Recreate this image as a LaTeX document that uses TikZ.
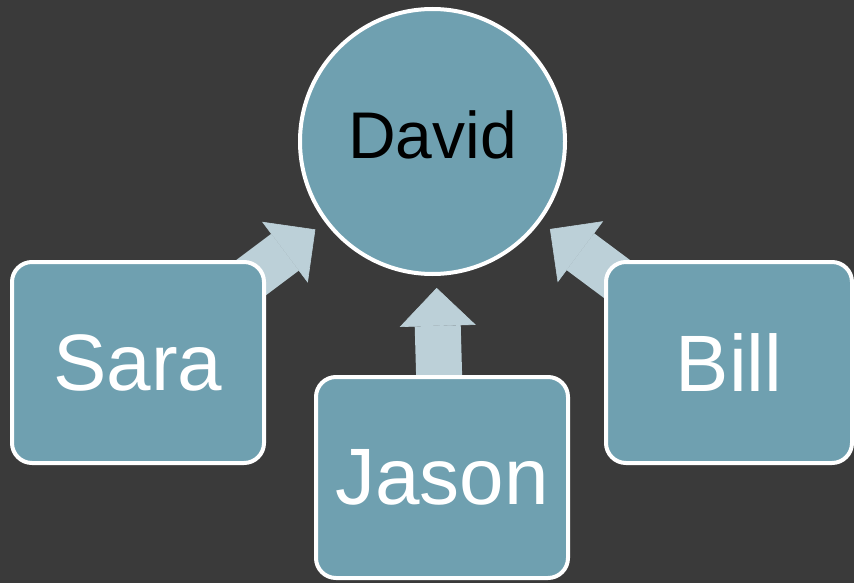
\documentclass[tikz,border=0pt]{standalone}
\usepackage{fontspec}
\setmainfont{Liberation Sans}
\usepackage{tikz}
\usepackage{xcolor}
\usetikzlibrary{arrows.meta}
\usetikzlibrary{positioning}

\definecolor{backdrop}{HTML}{3A3A3A}
\definecolor{tealfill}{HTML}{6FA0B0}
\definecolor{arrowfill}{HTML}{BCD0D8}

\pgfdeclarelayer{bg}
\pgfdeclarelayer{conn}
\pgfsetlayers{bg,conn,main}

\begin{document}
\begin{tikzpicture}[x=1pt, y=-1pt,
		person/.style={draw=white, line width=4pt, fill=tealfill, rounded corners=20pt, inner sep=0pt,
			minimum width=252pt, minimum height=201pt, text=white, font=\fontsize{80}{90}\selectfont},
		link/.style={draw=arrowfill, line width=46pt, shorten >=12pt,
			-{Triangle[width=76pt, length=38pt, line width=0.6pt]}}]
				\begin{pgfonlayer}{bg}
				\fill[backdrop] (0,0) rectangle (854,583);
				\end{pgfonlayer}
				\node[draw=white, line width=4pt, fill=tealfill, circle, minimum size=265pt, inner sep=0pt,
					text depth=14pt, font=\fontsize{66}{74}\selectfont] (david) at (432.5, 141.5) {David};
				\node[person] (sara) at (138, 362.5) {Sara};
				\node[person] (jason) at (442, 477.5) {Jason};
				\node[person, minimum width=246pt] (bill) at (729, 362.5) {Bill};
				\begin{pgfonlayer}{conn}
				\draw[link] (sara.center) to (david);
				\draw[link] (jason.center) to (david);
				\draw[link] (bill.center) to (david);
				\end{pgfonlayer}
			\end{tikzpicture}
\end{document}
